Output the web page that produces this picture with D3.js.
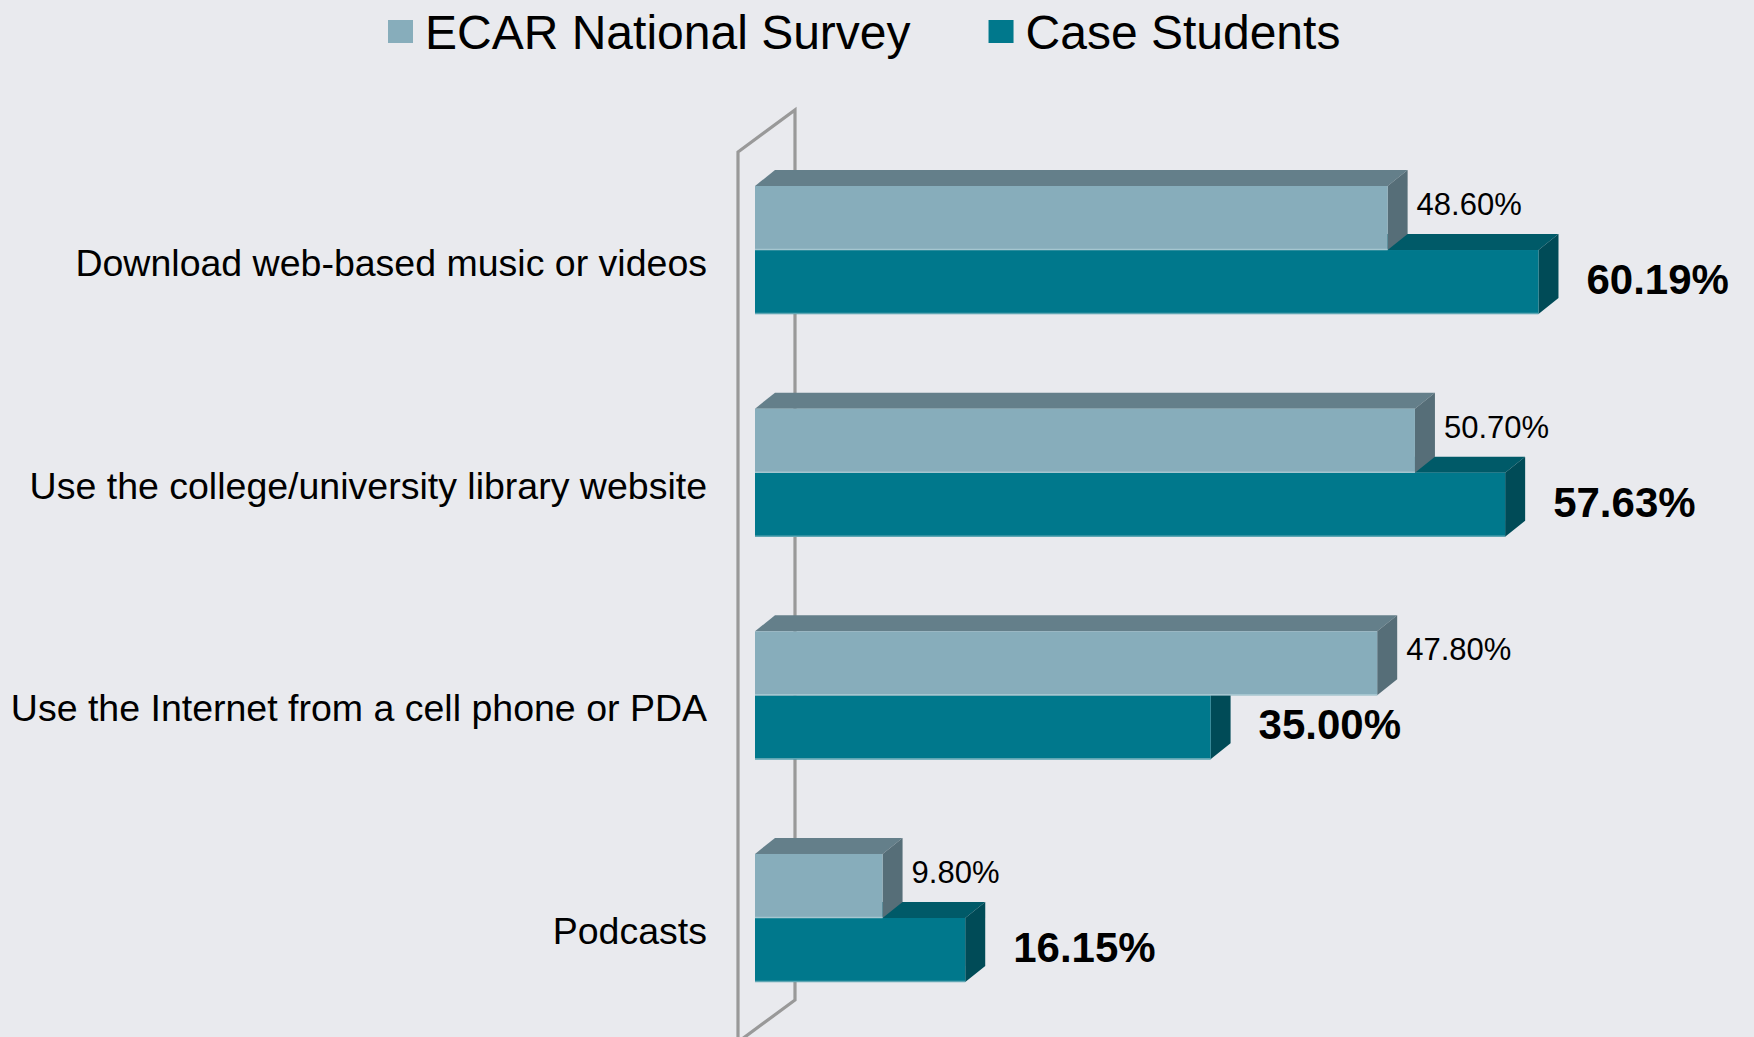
<!DOCTYPE html>
<html>
<head>
<meta charset="utf-8">
<script src="https://cdn.jsdelivr.net/npm/d3@7"></script>
<style>
  html, body { margin: 0; padding: 0; background: #e9eaee; }
  svg { display: block; font-family: "Liberation Sans", Arial, sans-serif; }
</style>
</head>
<body>
<svg id="chart" width="1754" height="1037"></svg>
<script>
// Categories (top to bottom) and the two survey series, in percent
const categories = [
  "Download web-based music or videos",
  "Use the college/university library website",
  "Use the Internet from a cell phone or PDA",
  "Podcasts"
];
const seriesNames = ["ECAR National Survey", "Case Students"];
const ecarValues = [48.60, 50.70, 47.80, 9.80];
const caseValues = [60.19, 57.63, 35.00, 16.15];

const W = 1754, H = 1037;
const svg = d3.select("#chart");

// face colours per series: front, top, side
const palette = {
  "ECAR National Survey": { front: "#87adbb", top: "#647f8a", side: "#566e78", edge: "#a5c6d0" },
  "Case Students":        { front: "#00788c", top: "#005a68", side: "#004b57", edge: "#5fa6b3" }
};

// plot geometry
const x0 = 755;
const x = d3.scaleLinear().domain([0, 60]).range([x0, x0 + 781]);
const y = d3.scaleBand().domain(categories).range([186, 982]).paddingInner(0.425).paddingOuter(0);
const ySub = d3.scaleBand().domain(seriesNames).range([0, y.bandwidth()]);
const depthX = 20, depthY = 16;

// back wall of the 3D frame
const wall = { left: x0 - 17, right: x0 + 40, topL: 152, topR: 110, botR: 1000, botL: 1042 };
svg.append("path")
  .attr("d", `M${wall.left},${wall.botL} L${wall.left},${wall.topL} L${wall.right},${wall.topR} L${wall.right},${wall.botR} L${wall.left},${wall.botL}`)
  .attr("fill", "none")
  .attr("stroke", "#999999")
  .attr("stroke-width", 3.2);

// one record per bar (darker series drawn first so the lighter bar sits over its top face)
const rows = [];
categories.forEach((c, i) => {
  rows.push({ cat: c, series: seriesNames[1], value: caseValues[i] });
  rows.push({ cat: c, series: seriesNames[0], value: ecarValues[i] });
});

const bars = svg.append("g").selectAll("g.bar")
  .data(rows)
  .join("g")
  .attr("class", "bar");

bars.each(function(d) {
  const g = d3.select(this);
  const c = palette[d.series];
  const top = y(d.cat) + ySub(d.series);
  const h = ySub.bandwidth();
  const xl = x(0), xr = x(d.value);
  // top face
  g.append("path")
    .attr("d", `M${xl},${top} L${xl + depthX},${top - depthY} L${xr + depthX},${top - depthY} L${xr},${top} Z`)
    .attr("fill", c.top);
  // side face
  g.append("path")
    .attr("d", `M${xr},${top} L${xr + depthX},${top - depthY} L${xr + depthX},${top + h - depthY} L${xr},${top + h} Z`)
    .attr("fill", c.side);
  // front face
  g.append("rect")
    .attr("x", xl).attr("y", top)
    .attr("width", xr - xl).attr("height", h)
    .attr("fill", c.front);
  // thin highlight along the bottom edge
  g.append("line")
    .attr("x1", xl).attr("x2", xr)
    .attr("y1", top + h - 0.5).attr("y2", top + h - 0.5)
    .attr("stroke", c.edge).attr("stroke-width", 1.5);
});

// value labels
categories.forEach((c, i) => {
  const ecarTop = y(c) + ySub(seriesNames[0]);
  const caseTop = y(c) + ySub(seriesNames[1]);
  const h = ySub.bandwidth();
  svg.append("text")
    .attr("x", x(ecarValues[i]) + depthX + 9)
    .attr("y", ecarTop + h / 2 - 3)
    .attr("font-size", 31)
    .attr("fill", "#000")
    .text(ecarValues[i].toFixed(2) + "%");
  svg.append("text")
    .attr("x", x(caseValues[i]) + depthX + 28)
    .attr("y", caseTop + h / 2 + 12)
    .attr("font-size", 42)
    .attr("font-weight", "bold")
    .attr("fill", "#000")
    .text(caseValues[i].toFixed(2) + "%");
});

// category axis labels
svg.append("g").selectAll("text")
  .data(categories)
  .join("text")
  .attr("x", 707)
  .attr("y", d => y(d) + y.bandwidth() / 2 + 26)
  .attr("text-anchor", "end")
  .attr("font-size", 37.5)
  .attr("fill", "#000")
  .text(d => d);

// legend
const legend = svg.append("g");
let lx = 388;
seriesNames.forEach(name => {
  legend.append("rect")
    .attr("x", lx).attr("y", 20)
    .attr("width", 25).attr("height", 23)
    .attr("fill", palette[name].front);
  const t = legend.append("text")
    .attr("x", lx + 37).attr("y", 49)
    .attr("font-size", 48)
    .attr("fill", "#000")
    .text(name);
  lx = lx + 37 + t.node().getComputedTextLength() + 78;
});
</script>
</body>
</html>
